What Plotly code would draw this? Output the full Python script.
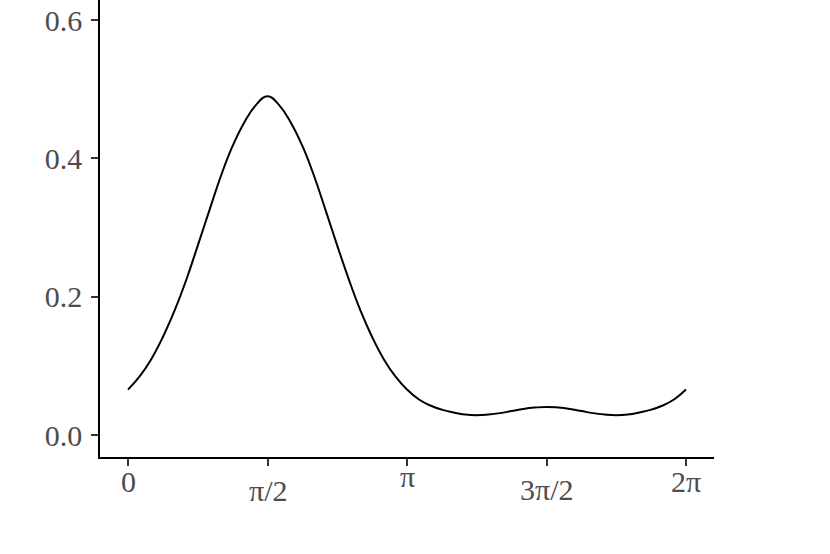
import numpy as np
import plotly.graph_objects as go

# angle in steps of pi/24 (0 .. 2pi), density
steps = list(range(49))
density = [0.066, 0.085, 0.110, 0.142, 0.180, 0.224, 0.274, 0.325, 0.375, 0.418,
           0.452, 0.477, 0.490, 0.477, 0.452, 0.418, 0.375, 0.325, 0.274, 0.225,
           0.180, 0.142, 0.110, 0.085, 0.066, 0.052, 0.043, 0.037, 0.033, 0.030,
           0.029, 0.030, 0.032, 0.035, 0.038, 0.040, 0.041, 0.040, 0.038, 0.035,
           0.032, 0.030, 0.029, 0.030, 0.033, 0.037, 0.043, 0.052, 0.066]

tick_vals = [0, np.pi / 2, np.pi, 3 * np.pi / 2, 2 * np.pi]
tick_text = ["0", "π/2", "π", "3π/2", "2π"]
tick_shift = [-6, -15, -1, -14, -6]   # plotmath labels sit at different heights
y_ticks = [0.0, 0.2, 0.4, 0.6]
y_text = ["0.0", "0.2", "0.4", "0.6"]

theta = [k * np.pi / 24 for k in steps]

fig = go.Figure()
fig.add_trace(go.Scatter(x=theta, y=density, mode="lines",
                         line=dict(color="black", width=2, shape="spline", smoothing=1.3),
                         hoverinfo="skip", showlegend=False))

lab_font = dict(family="Liberation Serif", size=30, color="#4d4d4d")

for tv, tt, ts in zip(tick_vals, tick_text, tick_shift):
    fig.add_annotation(x=tv, y=0, xref="x", yref="paper", text=tt, showarrow=False,
                       xanchor="center", yanchor="top", yshift=ts, font=lab_font)

fig.update_layout(
    width=830, height=554,
    margin=dict(l=100, r=116, t=0, b=97),
    paper_bgcolor="white", plot_bgcolor="white",
    xaxis=dict(range=[-0.3153, 2 * np.pi + 0.3153], tickvals=tick_vals, showticklabels=False,
               showgrid=False, zeroline=False, showline=True, linecolor="black", linewidth=1.6,
               ticks="outside", ticklen=7, tickwidth=1.5, tickcolor="#333333"),
    yaxis=dict(range=[-0.0314, 0.6289], tickvals=y_ticks, ticktext=y_text,
               showgrid=False, zeroline=False, showline=True, linecolor="black", linewidth=1.6,
               ticks="outside", ticklen=7, tickwidth=1.5, tickcolor="#333333",
               ticklabelstandoff=3, tickfont=lab_font),
)

fig.write_html("out.html", config={"displayModeBar": False},
               post_script="document.body.style.margin='0';")
